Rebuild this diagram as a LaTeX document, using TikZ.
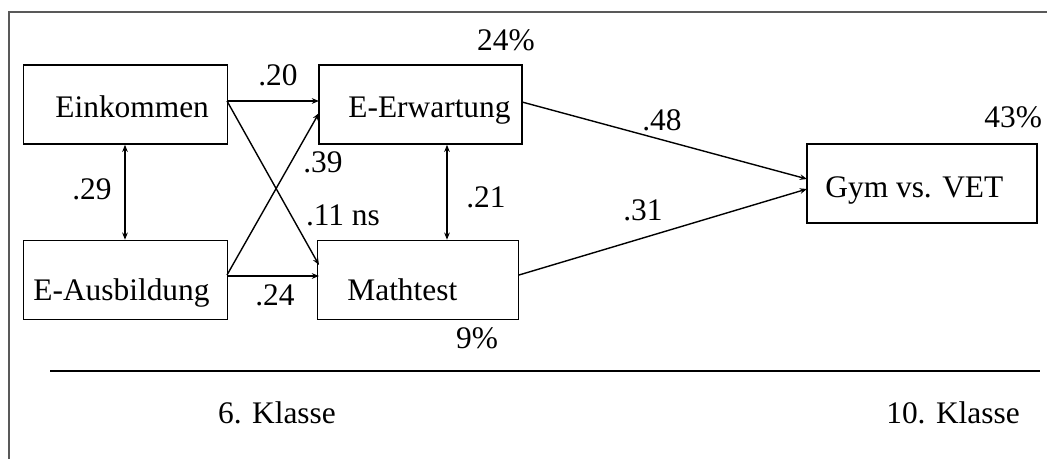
\documentclass[tikz,border=0pt]{standalone}
\usepackage{fontspec}
\setmainfont{Liberation Serif}
\usetikzlibrary{arrows.meta}
\begin{document}
\begin{tikzpicture}[x=0.5pt,y=-0.5pt,
  box/.style={draw, line width=0.75pt, minimum height=39.5pt, inner sep=0pt},
  txt/.style={font=\fontsize{15.7}{18}\selectfont, inner sep=0pt},
  conn/.style={line width=0.7pt, -{Stealth[length=3.6pt,width=2.8pt]}},
  both/.style={line width=0.7pt, {Stealth[length=3.6pt,width=2.8pt]}-{Stealth[length=3.6pt,width=2.8pt]}}]
\useasboundingbox (0,0) rectangle (1047,459);
\clip (0,0) rectangle (1047,459);
% outer frame
\draw[line width=1pt, black!65] (9,470) -- (9,12) -- (1060,12);
% boxes
\node[box, minimum width=102pt] (ein) at (125.5,104.5) {};
\node[box, minimum width=101.5pt] (erw) at (420.5,104.5) {};
\node[box, minimum width=102pt] (aus) at (125.5,280) {};
\node[box, minimum width=100.5pt] (mat) at (418,280) {};
\node[box, minimum width=115pt] (gym) at (922,183.5) {};
% box texts
\node[txt, anchor=base west] (tein) at (55,118) {Einkommen};
\node[txt, anchor=base west] (terw) at (348,118) {E-Erwartung};
\node[txt, anchor=base west] (taus) at (33,300) {E-Ausbildung};
\node[txt, anchor=base west] (tmat) at (347,300) {Mathtest};
\node[txt, anchor=base west] (tgym) at (825,198) {Gym vs. VET};
% connector end points
\coordinate (a1) at (227,101);
\coordinate (b1) at (319,101);
\coordinate (b2) at (319,265);
\coordinate (a2) at (227,275);
\coordinate (b3) at (319,113);
\coordinate (b4) at (319,276);
\coordinate (a4) at (227,276);
\coordinate (c1) at (522,102);
\coordinate (g1) at (807,179);
\coordinate (c2) at (519,275);
\coordinate (g2) at (807,189);
\draw[conn] (a1) -- (b1);
\draw[conn] (a1) -- (b2);
\draw[conn] (a2) -- (b3);
\draw[conn] (a4) -- (b4);
\draw[both] (ein.south -| 125,0) -- (aus.north -| 125,0);
\draw[both] (erw.south -| 447,0) -- (mat.north -| 447,0);
\draw[conn] (c1) -- (g1);
\draw[conn] (c2) -- (g2);
% coefficient labels
\node[txt] (l20) at (278,75) {.20};
\node[txt] (l39) at (323,162) {.39};
\node[txt] (l11) at (343,215) {.11 ns};
\node[txt] (l29) at (92,189) {.29};
\node[txt] (l21) at (486,197) {.21};
\node[txt] (l24) at (275,295) {.24};
\node[txt] (p24) at (506,40) {24\%};
\node[txt] (l48) at (662,120) {.48};
\node[txt] (l31) at (643,210) {.31};
\node[txt, anchor=base west] (p43) at (984,128) {43\%};
\node[txt] (p9) at (477,338) {9\%};
% time axis
\coordinate (h1) at (50,371);
\coordinate (h2) at (1040,371);
\draw[line width=1pt] (h1) -- (h2);
\node[txt] (k6) at (277,413) {6. Klasse};
\node[txt] (k10) at (953,413) {10. Klasse};
\end{tikzpicture}
\end{document}
